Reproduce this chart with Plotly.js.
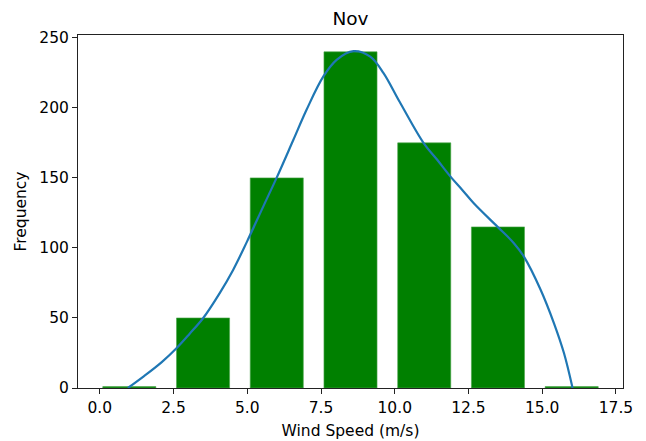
<!DOCTYPE html>
<html>
<head>
<meta charset="utf-8">
<script src="https://cdn.plot.ly/plotly-3.0.1.min.js"></script>
<style>
  html, body { margin: 0; padding: 0; background: #fff; }
  #chart { width: 646px; height: 441px; }
</style>
</head>
<body>
<div id="chart"></div>
<script>
// Histogram of November wind speeds
const binCenters = [1, 3.5, 6, 8.5, 11, 13.5, 16];
const counts = [1, 50, 150, 240, 175, 115, 1];

// Smoothed density curve, scaled to frequency
const kdeX = [0.95, 1.5, 2.1, 2.59, 3.04, 3.50, 4.06, 4.52, 4.99, 5.54, 5.99, 6.56, 7.01, 7.58, 8.03, 8.6,
              9.17, 9.62, 10.16, 10.98, 11.44, 11.89, 12.29, 12.68, 13.48, 14.04, 14.38, 14.95, 15.4, 15.74, 16.03];
const kdeY = [0, 8.5, 18.5, 28.2, 38.6, 49.8, 67.6, 84.3, 104.5, 129.5, 149.8, 177, 198.6, 222.4, 234.3, 240.5,
              236.6, 224.8, 204.5, 174.8, 162.9, 150.9, 141.4, 131.9, 115.2, 103.4, 93.8, 70, 46.2, 24.8, 0];

const xTicks = [0, 2.5, 5, 7.5, 10, 12.5, 15, 17.5];
const xTickText = ['0.0', '2.5', '5.0', '7.5', '10.0', '12.5', '15.0', '17.5'];
const yTicks = [0, 50, 100, 150, 200, 250];

const font = { family: 'DejaVu Sans, sans-serif', size: 15.5, color: '#000' };

const traces = [
  {
    type: 'bar',
    x: binCenters,
    y: counts,
    width: 1.8,
    marker: { color: '#008000', line: { color: '#4da64d', width: 0.6 } },
    hoverinfo: 'x+y'
  },
  {
    type: 'scatter',
    mode: 'lines',
    x: kdeX,
    y: kdeY,
    line: { color: '#1f77b4', width: 2.2, shape: 'spline', smoothing: 1 },
    hoverinfo: 'x+y'
  }
];

const axisCommon = {
  showline: true,
  mirror: true,
  linecolor: '#222',
  linewidth: 1,
  ticks: 'outside',
  ticklen: 5,
  tickwidth: 1,
  tickcolor: '#222',
  showgrid: false,
  zeroline: false,
  tickfont: font
};

const layout = {
  width: 646,
  height: 441,
  margin: { l: 78, r: 23, t: 35, b: 53 },
  paper_bgcolor: '#fff',
  plot_bgcolor: '#fff',
  showlegend: false,
  bargap: 0,
  font: font,
  title: {
    text: 'Nov',
    font: { family: 'DejaVu Sans, sans-serif', size: 18.5, color: '#000' },
    x: 0.5425, xanchor: 'center',
    y: 0.959, yanchor: 'middle'
  },
  xaxis: Object.assign({}, axisCommon, {
    range: [-0.74, 17.74],
    tickvals: xTicks,
    ticktext: xTickText,
    title: { text: 'Wind Speed (m/s)', font: font, standoff: 9 }
  }),
  yaxis: Object.assign({}, axisCommon, {
    range: [0, 252],
    tickvals: yTicks,
    title: { text: 'Frequency', font: font, standoff: 8 }
  })
};

Plotly.newPlot('chart', traces, layout, { displayModeBar: false, staticPlot: true });
</script>
</body>
</html>
